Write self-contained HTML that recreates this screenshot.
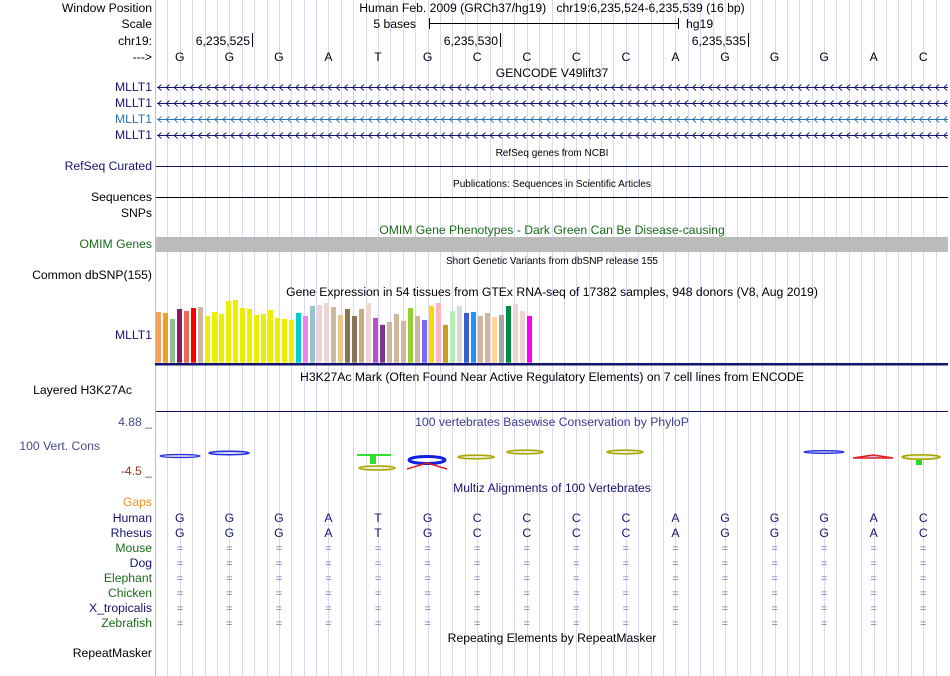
<!DOCTYPE html>
<html><head><meta charset="utf-8">
<style>
html,body{margin:0;padding:0;background:#fff;}
svg{display:block;font-family:"Liberation Sans",sans-serif;}
</style></head>
<body>
<svg id="c" width="950" height="676" viewBox="0 0 950 676">
<g id="grid"></g>
<line x1="155.5" y1="0" x2="155.5" y2="676" stroke="#f4a8a8" stroke-width="1"/>
<g font-size="12.2" fill="#000" text-anchor="end">
<text x="152" y="12">Window Position</text>
<text x="152" y="28">Scale</text>
<text x="152" y="45">chr19:</text>
<text x="152" y="61">---&gt;</text>
<text x="152" y="91" fill="#14146e">MLLT1</text>
<text x="152" y="107" fill="#14146e">MLLT1</text>
<text x="152" y="123" fill="#2a74b0">MLLT1</text>
<text x="152" y="139" fill="#14146e">MLLT1</text>
<text x="152" y="170" fill="#14146e">RefSeq Curated</text>
<text x="152" y="201">Sequences</text>
<text x="152" y="217">SNPs</text>
<text x="152" y="248" fill="#1a6b1a">OMIM Genes</text>
<text x="152" y="279">Common dbSNP(155)</text>
<text x="152" y="339" fill="#14146e">MLLT1</text>
<text x="132" y="394">Layered H3K27Ac</text>
<text x="152" y="426" fill="#4a4a8a">4.88 _</text>
<text x="100" y="450" fill="#4a4a8a">100 Vert. Cons</text>
<text x="152" y="475" fill="#8b3a1a">-4.5 _</text>
<text x="152" y="506" fill="#f0901e">Gaps</text>
<text x="152" y="522" fill="#14146e">Human</text>
<text x="152" y="537" fill="#14146e">Rhesus</text>
<text x="152" y="552" fill="#1a6b1a">Mouse</text>
<text x="152" y="567" fill="#14146e">Dog</text>
<text x="152" y="582" fill="#1a6b1a">Elephant</text>
<text x="152" y="597" fill="#1a6b1a">Chicken</text>
<text x="152" y="612" fill="#14146e">X_tropicalis</text>
<text x="152" y="627" fill="#1a6b1a">Zebrafish</text>
<text x="152" y="657">RepeatMasker</text>
</g>
<g font-size="12.2" text-anchor="middle">
<text x="552" y="12">Human Feb. 2009 (GRCh37/hg19)&#160;&#160;&#160;chr19:6,235,524-6,235,539 (16 bp)</text>
<text x="552" y="77">GENCODE V49lift37</text>
<text x="552" y="296">Gene Expression in 54 tissues from GTEx RNA-seq of 17382 samples, 948 donors (V8, Aug 2019)</text>
<text x="552" y="381">H3K27Ac Mark (Often Found Near Active Regulatory Elements) on 7 cell lines from ENCODE</text>
<text x="552" y="426" fill="#3a3a90">100 vertebrates Basewise Conservation by PhyloP</text>
<text x="552" y="492" fill="#14146e">Multiz Alignments of 100 Vertebrates</text>
<text x="552" y="642">Repeating Elements by RepeatMasker</text>
<text x="552" y="234" fill="#1a6b1a">OMIM Gene Phenotypes - Dark Green Can Be Disease-causing</text>
<text x="552" y="156" font-size="10">RefSeq genes from NCBI</text>
<text x="552" y="187" font-size="10">Publications: Sequences in Scientific Articles</text>
<text x="552" y="264" font-size="10">Short Genetic Variants from dbSNP release 155</text>
</g>
<g font-size="12.2">
<text x="416" y="28" text-anchor="end">5 bases</text>
<line x1="429" y1="23.5" x2="678" y2="23.5" stroke="#000"/>
<line x1="429.5" y1="18" x2="429.5" y2="29" stroke="#000"/>
<line x1="678.5" y1="18" x2="678.5" y2="29" stroke="#000"/>
<text x="686" y="28">hg19</text>
</g>
<g id="ruler" font-size="12.2"></g>
<g id="bases" font-size="12.2" text-anchor="middle"></g>
<g id="genes"></g>
<line x1="156" y1="166.5" x2="948" y2="166.5" stroke="#14146e"/>
<line x1="156" y1="197.5" x2="948" y2="197.5" stroke="#000"/>
<rect x="156" y="237" width="792" height="15" fill="#bcbcbc"/>
<g id="gtex"></g>
<rect x="155" y="363" width="793" height="2.5" fill="#14146e"/>
<line x1="156" y1="411.5" x2="948" y2="411.5" stroke="#14146e"/>
<g id="logos">
<ellipse cx="180" cy="456" rx="20" ry="1.5" fill="#dde" stroke="#2030e0" stroke-width="1.2"/>
<ellipse cx="229" cy="453" rx="20" ry="1.7" fill="#dde" stroke="#2030e0" stroke-width="1.5"/>
<rect x="357" y="454" width="34" height="2" fill="#30e030"/>
<rect x="370" y="455" width="6" height="9" fill="#30e030"/>
<ellipse cx="377" cy="468" rx="18" ry="2" fill="#eed" stroke="#a8a800" stroke-width="1.6"/>
<ellipse cx="427" cy="460" rx="18" ry="3.5" fill="#fff" stroke="#1020e0" stroke-width="3"/>
<path d="M407 469 L427 463 L447 469" stroke="#e02020" stroke-width="1.5" fill="none"/>
<ellipse cx="476" cy="457" rx="18" ry="1.8" fill="#eed" stroke="#a8a800" stroke-width="1.6"/>
<ellipse cx="525" cy="452" rx="18" ry="1.8" fill="#eed" stroke="#a8a800" stroke-width="1.6"/>
<ellipse cx="625" cy="452" rx="18" ry="1.8" fill="#eed" stroke="#a8a800" stroke-width="1.6"/>
<ellipse cx="824" cy="452" rx="20" ry="1.3" fill="#dde" stroke="#2030e0" stroke-width="1.3"/>
<path d="M853 458 L873 455 L893 458 Z" fill="#c8c8f0" stroke="#e02020" stroke-width="1.5"/>
<ellipse cx="921" cy="457" rx="19" ry="2.2" fill="#eed" stroke="#a8a800" stroke-width="1.6"/>
<rect x="916" y="460" width="6" height="5" fill="#20e020"/>
</g>
<g id="align" font-size="12.2" text-anchor="middle"></g>
</svg>
<script>
const bases = ["G","G","G","A","T","G","C","C","C","C","A","G","G","G","A","C"];
const rulerLabels = ["6,235,525","6,235,530","6,235,535"];
const rulerPositions = [6235525, 6235530, 6235535];
const gtexValues = [51,50,44,54,52,55,56,47,51,49,62,63,55,54,48,49,53,45,44,43,50,47,57,58,60,56,48,54,47,54,60,45,38,41,49,42,55,47,43,57,60,38,52,57,50,51,47,50,46,48,57,59,52,47];
const gtexColors = ["#f4a55a","#f0a01e","#8fbc8f","#8b1c62","#ee6a50","#ff0000","#cdb79e","#eeee00","#eeee00","#eeee00","#eeee00","#eeee00","#eeee00","#eeee00","#eeee00","#eeee00","#eeee00","#eeee00","#eeee00","#eeee00","#00ced1","#ee82ee","#9ac0cd","#eed5d2","#eed5d2","#cdb79e","#eec591","#8b7355","#8b7355","#cdaa7d","#eed5d2","#b452cd","#7a378b","#cdb79e","#cdb79e","#cdb79e","#9acd32","#cdb79e","#7b68ee","#ffd700","#ffb6c1","#cd9b1d","#b4eeb4","#d9d9d9","#3a5fcd","#1e90ff","#cdb79e","#cdb79e","#ffd39b","#a6a6a6","#008b45","#eed5d2","#eed5d2","#ff00ff"];
const species = ["Human","Rhesus","Mouse","Dog","Elephant","Chicken","X_tropicalis","Zebrafish"];

const NS="http://www.w3.org/2000/svg";
function mk(tag, attrs, parent){const e=document.createElementNS(NS,tag);for(const k in attrs)e.setAttribute(k,attrs[k]);parent.appendChild(e);return e;}
const X0=155, X1=948, startPos=6235524;
const bw=(X1-X0)/bases.length;
const xBase=i=>X0+(i+0.5)*bw;
const xPosEnd=p=>X0+(p-startPos+1)*bw;

const grid=document.getElementById('grid');
for(let k=1;k<bases.length*4;k++){
  const x=Math.round(X0+k*bw/4)+0.5;
  const l=mk('line',{x1:x,y1:0,x2:x,y2:676,stroke:'#d8d8f4','stroke-width':1},grid);
  
  
}
const ruler=document.getElementById('ruler');
rulerLabels.forEach((lab,i)=>{
  const x=Math.round(xPosEnd(rulerPositions[i]))-2;
  const t=mk('text',{x:x-2,y:45,'text-anchor':'end'},ruler);t.textContent=lab;
  
  
  mk('line',{x1:x+0.5,y1:33,x2:x+0.5,y2:47,stroke:'#000'},ruler);
});
const bg=document.getElementById('bases');
bases.forEach((b,i)=>{
  const t=mk('text',{x:xBase(i),y:61},bg);t.textContent=b;
  
  
});
const genes=document.getElementById('genes');
[87,103,119,135].forEach((y,j)=>{
  const col=j===2?'#2a74b0':'#14146e';
  const g=mk('g',{},genes);
  
  
  mk('line',{x1:157,y1:y+0.5,x2:948,y2:y+0.5,stroke:col},g);
  let d='';
  for(let x=158;x<946;x+=8.1){d+=`M${x+3.5} ${y-2.5} L${x} ${y+0.5} L${x+3.5} ${y+3.5} `;}
  mk('path',{d:d,stroke:col,fill:'none','stroke-width':0.9},g);
});
const gtex=document.getElementById('gtex');
const base=362.7, yMaxV=63;
const hScale=62.7/yMaxV;
gtexValues.forEach((v,i)=>{
  const h=v*hScale;
  const r=mk('rect',{x:156+i*7,y:base-h,width:5,height:h,fill:gtexColors[i]},gtex);
  
  
});
const al=document.getElementById('align');
species.forEach((s,j)=>{
  const y=522+j*15;
  bases.forEach((b,i)=>{
    const t=mk('text',{x:xBase(i),y:y,fill:j<2?'#14146e':'#7a7ab8','font-size':j<2?12.2:11},al);
    t.textContent=j<2?b:'=';
    
    
  });
});
</script>
</body></html>
